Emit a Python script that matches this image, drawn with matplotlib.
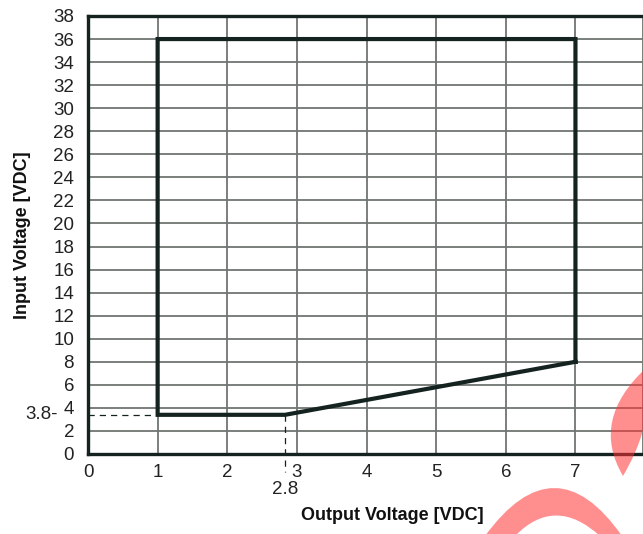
import numpy as np
import matplotlib
matplotlib.use("Agg")
import matplotlib.pyplot as plt
from matplotlib.path import Path
from matplotlib.patches import PathPatch

# ---- data ----
boundary_x = [7.0, 7.0, 1.0, 1.0, 2.83, 7.0]
boundary_y = [8.0, 36.0, 36.0, 3.4, 3.4, 8.0]
x_ticks = [0, 1, 2, 3, 4, 5, 6, 7]
y_ticks = list(range(0, 39, 2))
marker_x = 2.83
marker_y = 3.4
marker_x_label = "2.8"
marker_y_label = "3.8-"

W, H = 643, 534
fig = plt.figure(figsize=(W / 100, H / 100), dpi=100)
ax = fig.add_axes([88 / W, 80 / H, 1 - 88 / W, (454 - 16) / H])

ax.set_xlim(0, 7.97)
ax.set_ylim(0, 38)

dark = "#142220"
gridc = "#6f7572"

ax.set_xticks(x_ticks)
ax.set_yticks(y_ticks)
ax.grid(True, color=gridc, lw=1.3)
ax.set_axisbelow(True)

tick_font = "Liberation Sans"
ax.tick_params(length=0, pad=7, labelsize=13.5, colors="#222222")
for lab in ax.get_xticklabels() + ax.get_yticklabels():
    lab.set_family(tick_font)
ax.tick_params(axis="y", pad=10)

for s in ["left", "bottom", "top"]:
    ax.spines[s].set_color(dark)
    ax.spines[s].set_linewidth(2.4)
ax.spines["right"].set_color(gridc)
ax.spines["right"].set_linewidth(1.3)

ax.plot(boundary_x, boundary_y, color=dark, lw=3.0, solid_joinstyle="miter",
        clip_on=False, zorder=5)

# dashed marker lines
ax.plot([0, 1], [marker_y, marker_y], color=dark, lw=0.9, ls=(0, (5, 4)), zorder=4)
ax.plot([marker_x, marker_x], [marker_y, -1.6], color=dark, lw=0.9, ls=(0, (5, 4)),
        clip_on=False, zorder=4)
ax.text(-0.43, marker_y, marker_y_label, ha="right", va="center", fontsize=13.5,
        family=tick_font, color="#222222", clip_on=False)
ax.text(marker_x, -3.05, marker_x_label, ha="center", va="center", fontsize=13.5,
        family=tick_font, color="#222222", clip_on=False)

lab_font = "Liberation Sans"
ax.set_xlabel("Output Voltage [VDC]", fontsize=13, fontweight="bold", family=lab_font,
              color="#111111")
ax.xaxis.set_label_coords(0.548, -0.122)
ax.set_ylabel("Input Voltage [VDC]", fontsize=13, fontweight="bold", family=lab_font,
              color="#111111")
ax.yaxis.set_label_coords(-0.103, 0.5)

# red watermark fragments (figure pixel coordinates)
def px(pts):
    return [(x / W, 1 - y / H) for x, y in pts]

wm_color = (1.0, 0.2, 0.2)
v1 = px([(646, 368), (590, 420), (623, 476), (650, 430), (646, 395), (646, 368)])
c1 = [Path.MOVETO, Path.CURVE3, Path.CURVE3, Path.CURVE3, Path.CURVE3, Path.CLOSEPOLY]
fig.patches.append(PathPatch(Path(v1, c1), transform=fig.transFigure,
                             facecolor=wm_color, edgecolor="none", alpha=0.55, zorder=10))
v2 = px([(485, 536), (555, 440), (622, 536), (600, 536), (555, 495), (515, 536), (485, 536)])
c2 = [Path.MOVETO, Path.CURVE3, Path.CURVE3, Path.LINETO, Path.CURVE3, Path.CURVE3,
      Path.CLOSEPOLY]
fig.patches.append(PathPatch(Path(v2, c2), transform=fig.transFigure,
                             facecolor=wm_color, edgecolor="none", alpha=0.55, zorder=10))

fig.savefig("out.png", dpi=100)
